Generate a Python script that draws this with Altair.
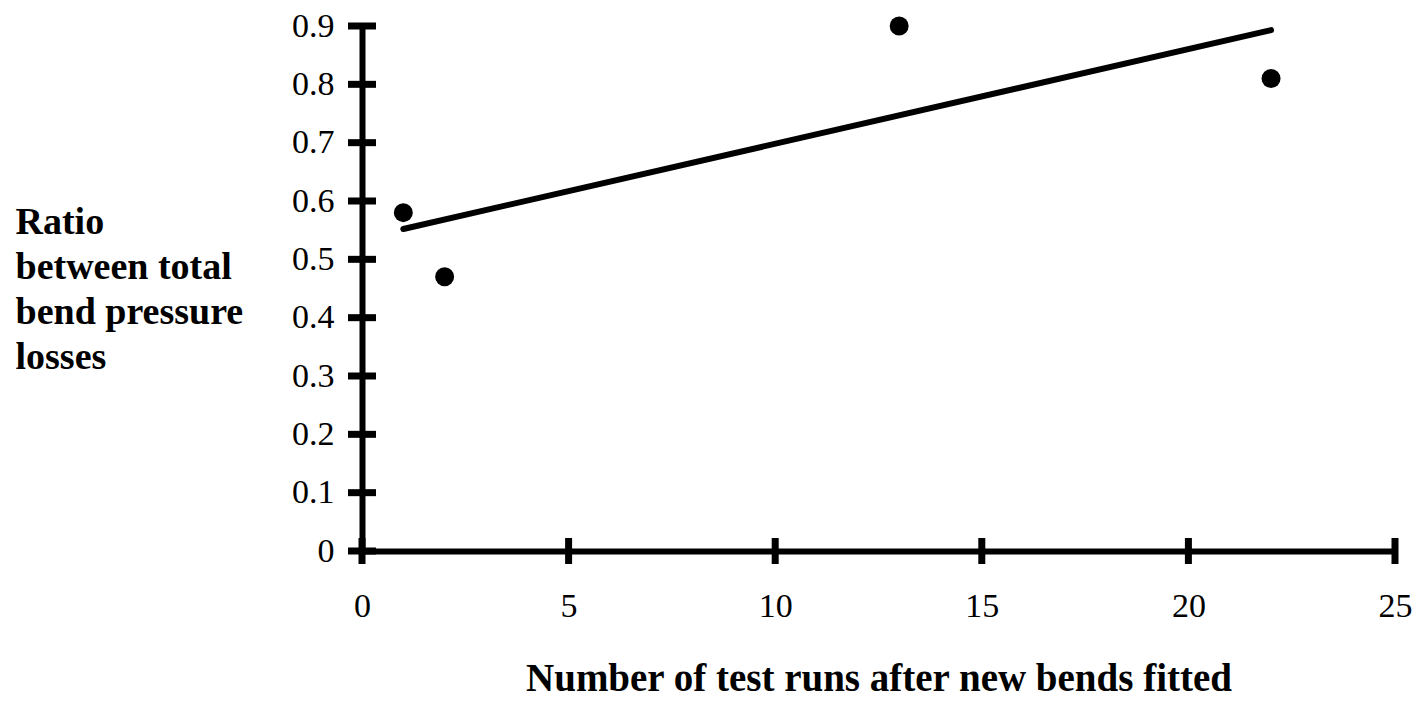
import altair as alt
import pandas as pd

# Data
runs = [1, 2, 13, 22]
ratio = [0.58, 0.47, 0.90, 0.81]
x_tick_values = [0, 5, 10, 15, 20, 25]
y_tick_values = [0, 0.1, 0.2, 0.3, 0.4, 0.5, 0.6, 0.7, 0.8, 0.9]
y_title_lines = ["Ratio", "between total", "bend pressure", "losses"]
x_title_text = "Number of test runs after new bends fitted"

df = pd.DataFrame({"runs": runs, "ratio": ratio})
xt = pd.DataFrame({"v": x_tick_values})
yt = pd.DataFrame({"v": y_tick_values})

FONT = "Liberation Serif"

xs = alt.Scale(domain=[0, 25], nice=False, zero=False)
ys = alt.Scale(domain=[0, 0.9], nice=False, zero=False)

x_axis = alt.Axis(
    values=x_tick_values, ticks=False, grid=False, labelFlush=False,
    domainColor="black", domainWidth=6,
    labelFont=FONT, labelFontSize=34, labelColor="black", labelPadding=38,
    title=x_title_text, titleFont=FONT, titleFontSize=39, titleFontWeight="bold",
    titleColor="black", titleBaseline="alphabetic", titleY=139,
)
y_axis = alt.Axis(
    values=y_tick_values, ticks=False, grid=False, format=".1~f", labelFlush=False,
    domainColor="black", domainWidth=6,
    labelFont=FONT, labelFontSize=34, labelColor="black", labelPadding=28,
    title=y_title_lines, titleFont=FONT, titleFontSize=38, titleFontWeight="bold",
    titleColor="black", titleAngle=0, titleAlign="left", titleBaseline="alphabetic",
    titleX=-347, titleY=207, titleLineHeight=45,
)

points = alt.Chart(df).mark_circle(size=360, color="black", opacity=1).encode(
    x=alt.X("runs:Q", scale=xs, axis=x_axis),
    y=alt.Y("ratio:Q", scale=ys, axis=y_axis),
)

trend = alt.Chart(df).transform_regression("runs", "ratio").mark_line(
    color="black", strokeWidth=6, strokeCap="round"
).encode(
    x=alt.X("runs:Q", scale=xs),
    y=alt.Y("ratio:Q", scale=ys),
)

yticks = alt.Chart(yt).mark_tick(orient="horizontal", size=28, thickness=7, color="black", opacity=1).encode(
    x=alt.datum(0, scale=xs),
    y=alt.Y("v:Q", scale=ys),
)

xticks = alt.Chart(xt).mark_tick(orient="vertical", size=26, thickness=7, color="black", opacity=1).encode(
    x=alt.X("v:Q", scale=xs),
    y=alt.datum(0, scale=ys),
)

chart = alt.layer(trend, points, yticks, xticks).properties(
    width=1033, height=525,
    autosize=alt.AutoSizeParams(type="none"),
    padding={"left": 354, "top": 18, "right": 17, "bottom": 150},
    background="white",
).configure_view(stroke=None)

chart.save("out.html", embed_options={"renderer": "svg", "actions": False})
